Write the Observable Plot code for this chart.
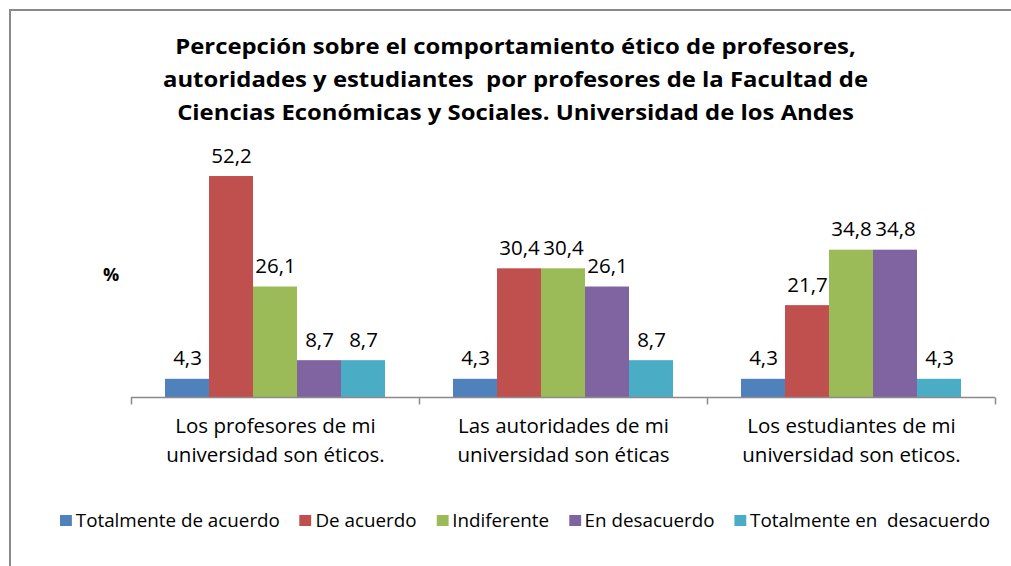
<!DOCTYPE html>
<html>
<head>
<meta charset="utf-8">
<script src="https://cdn.jsdelivr.net/npm/d3@7"></script>
<script src="https://cdn.jsdelivr.net/npm/@observablehq/plot@0.6"></script>
<style>
  html, body { margin: 0; padding: 0; background: #fff; }
  #wrap { position: relative; width: 1011px; height: 566px; overflow: hidden; font-family: "Open Sans", Lato, sans-serif; color: #000; }
  #frameTop { position: absolute; left: 9px; top: 9px; width: 1002px; height: 0; border-top: 2px solid #8a8a8a; }
  #frameLeft { position: absolute; left: 9px; top: 9px; width: 0; height: 557px; border-left: 2px solid #8a8a8a; }
  #title { position: absolute; left: 0; top: 29px; width: 1031px; text-align: center; font-weight: bold; font-size: 22px; line-height: 33px; transform-origin: 515.5px 0; }
  #pct { position: absolute; left: 103px; top: 262px; font-weight: bold; font-size: 18px; }
  #legend { position: absolute; left: 60px; top: 506px; display: flex; align-items: center; white-space: pre; font-size: 19px; line-height: 28px; transform-origin: left center; }
  #legend .item { display: flex; align-items: center; margin-right: 20px; }
  #legend .item:last-child { margin-right: 0; }
  #legend .sw { width: 12px; height: 11px; margin-right: 4px; display: inline-block; }
  #chart { position: absolute; left: 0; top: 0; }
  #chart svg { background: none; }
</style>
</head>
<body>
<div id="wrap">
  <div id="chart"></div>
  <div id="frameTop"></div>
  <div id="frameLeft"></div>
  <div id="title"></div>
  <div id="pct">%</div>
  <div id="legend"></div>
</div>
<script>
const titleLines = [
  "Percepción sobre el comportamiento ético de profesores,",
  "autoridades y estudiantes  por profesores de la Facultad de",
  "Ciencias Económicas y Sociales. Universidad de los Andes"
];
const categories = [
  "Los profesores de mi\nuniversidad son éticos.",
  "Las autoridades de mi\nuniversidad son éticas",
  "Los estudiantes de mi\nuniversidad son eticos."
];
const series = ["Totalmente de acuerdo", "De acuerdo", "Indiferente", "En desacuerdo", "Totalmente en  desacuerdo"];
const colors = ["#4F81BD", "#C0504D", "#9BBB59", "#8064A2", "#4BACC6"];
const totalmenteDeAcuerdo = [4.3, 4.3, 4.3];
const deAcuerdo = [52.2, 30.4, 21.7];
const indiferente = [26.1, 30.4, 34.8];
const enDesacuerdo = [8.7, 26.1, 34.8];
const totalmenteEnDesacuerdo = [8.7, 8.7, 4.3];
const yDomain = [0, 60];

const valuesBySeries = [totalmenteDeAcuerdo, deAcuerdo, indiferente, enDesacuerdo, totalmenteEnDesacuerdo];
const data = [];
categories.forEach((c, i) => series.forEach((s, j) => data.push({cat: c, series: s, value: valuesBySeries[j][i]})));

const titleEl = document.getElementById("title");
titleEl.innerHTML = titleLines.map(t => `<div><span>${t.replace(/  /g, " &nbsp;")}</span></div>`).join("");

const tickSymbol = {draw(ctx) { ctx.moveTo(0, 0); ctx.lineTo(0, 7); }};
const font = "'Open Sans', Lato, sans-serif";

const plot = Plot.plot({
  width: 1011,
  height: 566,
  marginTop: 143,
  marginBottom: 169,
  marginLeft: 131,
  marginRight: 16,
  style: {background: "none", fontFamily: font, color: "#000"},
  fx: {domain: categories, padding: 0},
  x: {domain: series, paddingInner: 0, paddingOuter: 0.75, axis: null},
  y: {domain: yDomain, axis: null},
  color: {domain: series, range: colors},
  marks: [
    Plot.barY(data, {fx: "cat", x: "series", y: "value", fill: "series"}),
    Plot.ruleY([0], {stroke: "#8a8a8a", strokeWidth: 1.5}),
    Plot.dot(categories, {fx: d => d, frameAnchor: "bottom-left", symbol: tickSymbol, stroke: "#8a8a8a", strokeWidth: 1.5, fill: "none"}),
    Plot.dot(categories.slice(-1), {fx: d => d, frameAnchor: "bottom-right", symbol: tickSymbol, stroke: "#8a8a8a", strokeWidth: 1.5, fill: "none"}),
    Plot.text(data, {fx: "cat", x: "series", y: "value", text: d => d.value.toFixed(1).replace(".", ","), lineAnchor: "bottom", dy: -14, fontSize: 20.5, fill: "#000"}),
    Plot.axisFx({anchor: "bottom", tickSize: 0, tickPadding: 14, label: null, fontSize: 20.5, lineHeight: 1.45, fill: "#000"})
  ]
});
document.getElementById("chart").appendChild(plot);

// stretch the title to the reference's width
const spans = titleEl.querySelectorAll("span");
const maxW = Math.max(...Array.from(spans, s => s.getBoundingClientRect().width));
titleEl.style.transform = `scaleX(${705 / maxW})`;

const legend = document.getElementById("legend");
series.forEach((s, i) => {
  const item = document.createElement("div");
  item.className = "item";
  item.innerHTML = `<span class="sw" style="background:${colors[i]}"></span><span>${s.replace(/  /g, " \u00a0")}</span>`;
  legend.appendChild(item);
});
// squeeze legend horizontally to the reference's condensed look
const w = legend.getBoundingClientRect().width;
legend.style.transform = `scaleX(${930 / w})`;
</script>
</body>
</html>
